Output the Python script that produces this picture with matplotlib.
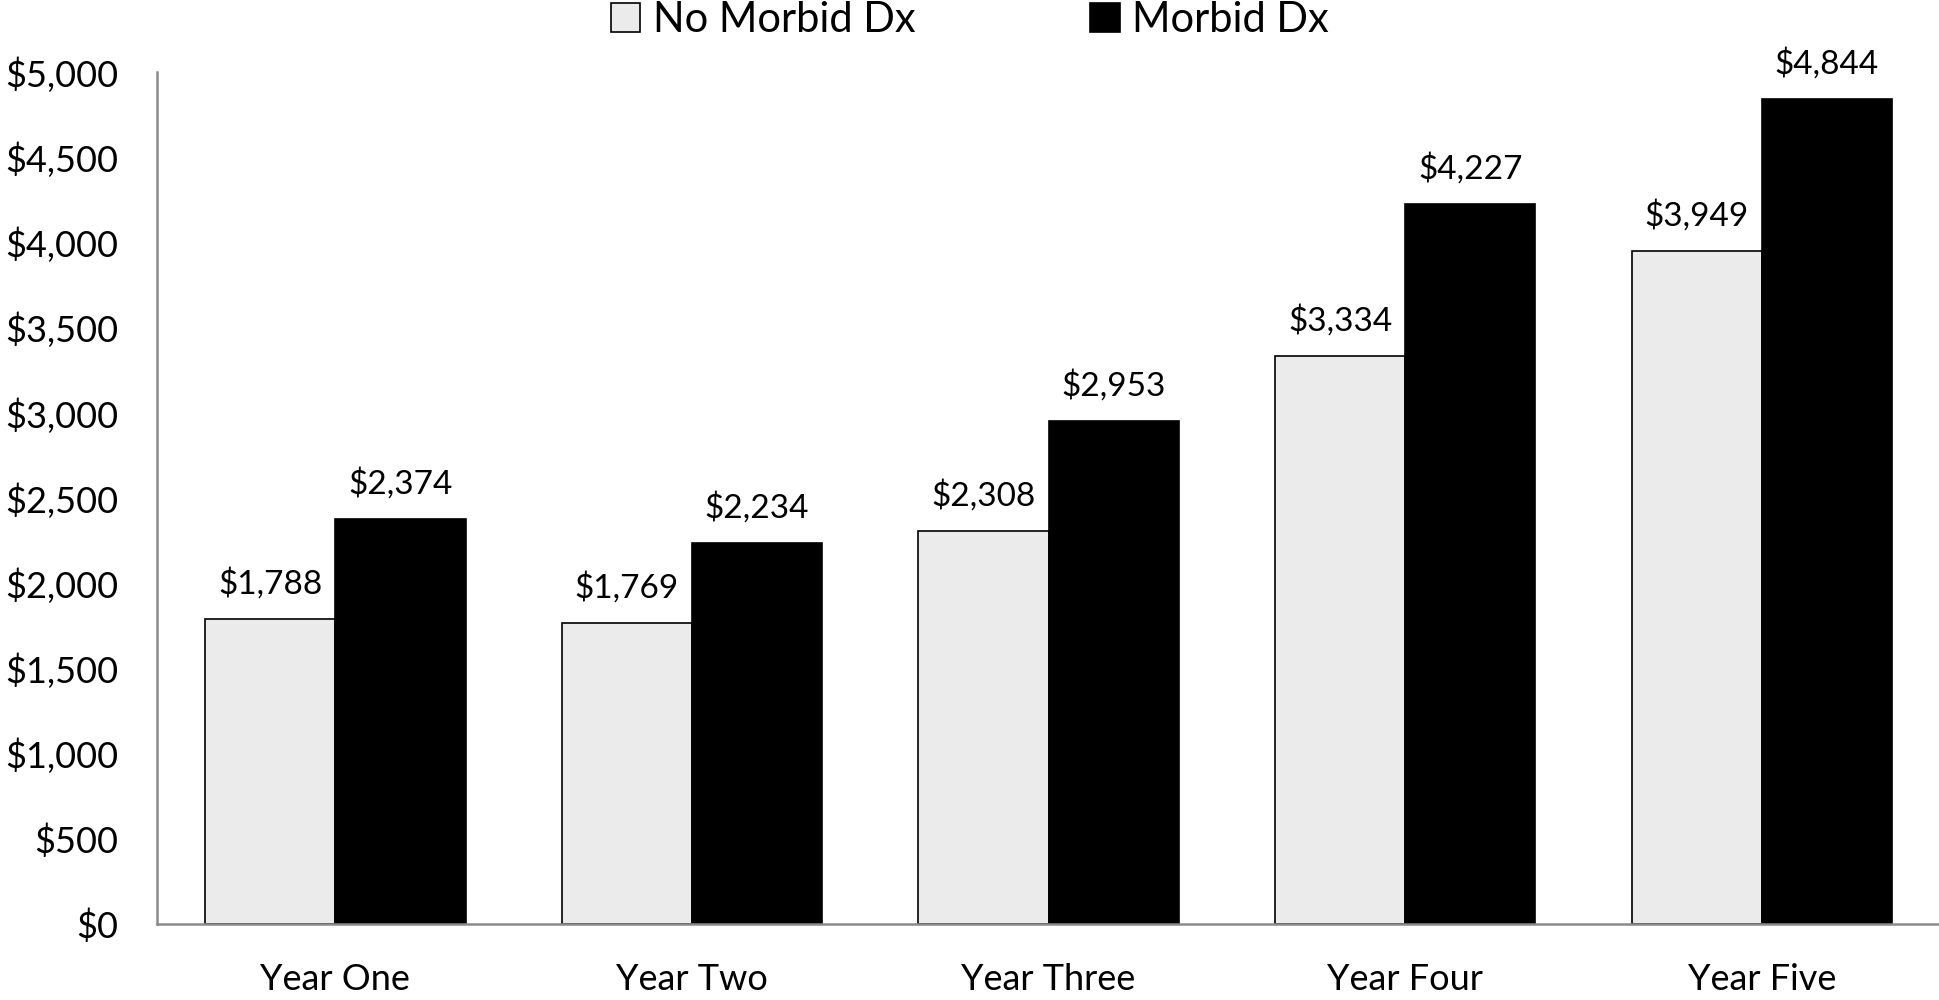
import numpy as np
import matplotlib.pyplot as plt
from matplotlib.patches import Patch

plt.rcParams['font.family'] = ['Lato', 'DejaVu Sans']

years = ["Year One", "Year Two", "Year Three", "Year Four", "Year Five"]
no_morbid = [1788, 1769, 2308, 3334, 3949]
morbid = [2374, 2234, 2953, 4227, 4844]
y_ticks = [0, 500, 1000, 1500, 2000, 2500, 3000, 3500, 4000, 4500, 5000]

light = "#ebebeb"
dark = "#000000"
axis_gray = "#8a8a8a"

fig = plt.figure(figsize=(19.4, 10), dpi=100)
ax = fig.add_axes([0.081, 0.076, 0.919, 0.852])

x = np.arange(len(years))
w = 0.365
b1 = ax.bar(x - w / 2, no_morbid, w, color=light, edgecolor="black", linewidth=1.2)
b2 = ax.bar(x + w / 2, morbid, w, color=dark, edgecolor="black", linewidth=1.2)

# value labels above each bar
for bars, vals in ((b1, no_morbid), (b2, morbid)):
    for rect, v in zip(bars, vals):
        ax.annotate(f"${v:,}", (rect.get_x() + rect.get_width() / 2, v),
                    xytext=(0, 14), textcoords="offset points",
                    ha="center", va="bottom", fontsize=24)

ax.set_xlim(-0.5, len(years) - 0.5)
ax.set_ylim(0, 5000)
ax.set_yticks(y_ticks)
ax.set_yticklabels([f"${t:,}" for t in y_ticks], fontsize=26)
ax.set_xticks(x)
ax.set_xticklabels(years, fontsize=26)
ax.tick_params(axis="both", length=0)
ax.tick_params(axis="y", pad=28)
ax.tick_params(axis="x", pad=28)

for s in ("top", "right"):
    ax.spines[s].set_visible(False)
for s in ("left", "bottom"):
    ax.spines[s].set_color(axis_gray)
    ax.spines[s].set_linewidth(1.8)

handles = [Patch(facecolor=light, edgecolor="black", linewidth=1.2, label="No Morbid Dx"),
           Patch(facecolor=dark, edgecolor="black", linewidth=1.2, label="Morbid Dx")]
fig.legend(handles=handles, loc="center", bbox_to_anchor=(0.5, 0.98), ncol=2,
           frameon=False, fontsize=30, handlelength=0.7, handleheight=0.7,
           handletextpad=0.3, columnspacing=4.2, borderaxespad=0)

fig.savefig("out.png", dpi=100)
